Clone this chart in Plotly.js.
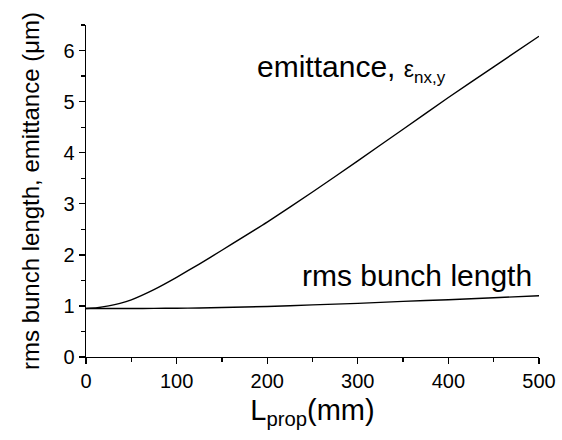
<!DOCTYPE html>
<html>
<head>
<meta charset="utf-8">
<script src="https://cdn.plot.ly/plotly-3.0.1.min.js"></script>
<style>html,body{margin:0;padding:0;background:#fff;}#chart{width:562px;height:440px;}</style>
</head>
<body>
<div id="chart"></div>
<script>
// Propagation length (mm)
const lprop = [0, 12.5, 25, 37.5, 50, 75, 100, 125, 150, 200, 250, 300, 350, 400, 450, 500];
// Normalized emittance (µm)
const emittance = [0.95, 0.965, 1.0, 1.05, 1.12, 1.32, 1.56, 1.82, 2.09, 2.64, 3.23, 3.84, 4.46, 5.08, 5.68, 6.28];
// RMS bunch length
const bunchLength = [0.95, 0.95, 0.95, 0.95, 0.95, 0.952, 0.955, 0.96, 0.97, 0.99, 1.02, 1.05, 1.09, 1.12, 1.16, 1.2];

const xTicks = [0, 100, 200, 300, 400, 500];
const yTicks = [0, 1, 2, 3, 4, 5, 6];

const font = "Liberation Sans, Arial, sans-serif";

const traces = [
  {x: lprop, y: emittance, mode: 'lines', line: {color: '#000', width: 1.4, shape: 'spline', smoothing: 0.5}, hoverinfo: 'skip'},
  {x: lprop, y: bunchLength, mode: 'lines', line: {color: '#000', width: 1.4, shape: 'spline', smoothing: 0.5}, hoverinfo: 'skip'}
];

const layout = {
  width: 562, height: 440,
  margin: {l: 86, r: 23, t: 25, b: 83},
  paper_bgcolor: '#fff', plot_bgcolor: '#fff',
  showlegend: false,
  font: {family: font, color: '#000'},
  xaxis: {
    range: [0, 500], tickvals: xTicks, ticktext: xTicks.map(String),
    showgrid: false, zeroline: false, showline: true, linecolor: '#000', linewidth: 1.3,
    ticks: 'outside', ticklen: 6, tickwidth: 1.3, tickcolor: '#000',
    minor: {dtick: 50, ticks: 'outside', ticklen: 4, tickwidth: 1.3, tickcolor: '#000', showgrid: false},
    tickfont: {size: 20, family: font},
    title: {text: 'L<sub>prop</sub>(mm)', font: {size: 29, family: font}, standoff: 8},
    fixedrange: true
  },
  yaxis: {
    range: [0, 6.5], tickvals: yTicks, ticktext: yTicks.map(String),
    showgrid: false, zeroline: false, showline: true, linecolor: '#000', linewidth: 1.3,
    ticks: 'outside', ticklen: 6, tickwidth: 1.3, tickcolor: '#000',
    minor: {dtick: 0.5, ticks: 'outside', ticklen: 4, tickwidth: 1.3, tickcolor: '#000', showgrid: false},
    tickfont: {size: 20, family: font},
    title: {text: 'rms bunch length, emittance (\u03bcm)', font: {size: 24, family: font}, standoff: 17},
    fixedrange: true
  },
  annotations: [
    {x: 0.373, y: 0.87, xref: 'paper', yref: 'paper', xanchor: 'left', yanchor: 'middle', showarrow: false,
     text: "emittance, <span style='font-size:23px'>\u03b5</span><sub><span style='font-size:17px'>nx,y</span></sub>",
     font: {size: 30, family: font, color: '#000'}},
    {x: 0.473, y: 0.245, xref: 'paper', yref: 'paper', xanchor: 'left', yanchor: 'middle', showarrow: false,
     text: 'rms bunch length', font: {size: 30, family: font, color: '#000'}}
  ]
};

Plotly.newPlot('chart', traces, layout, {staticPlot: true, displayModeBar: false});
</script>
</body>
</html>
